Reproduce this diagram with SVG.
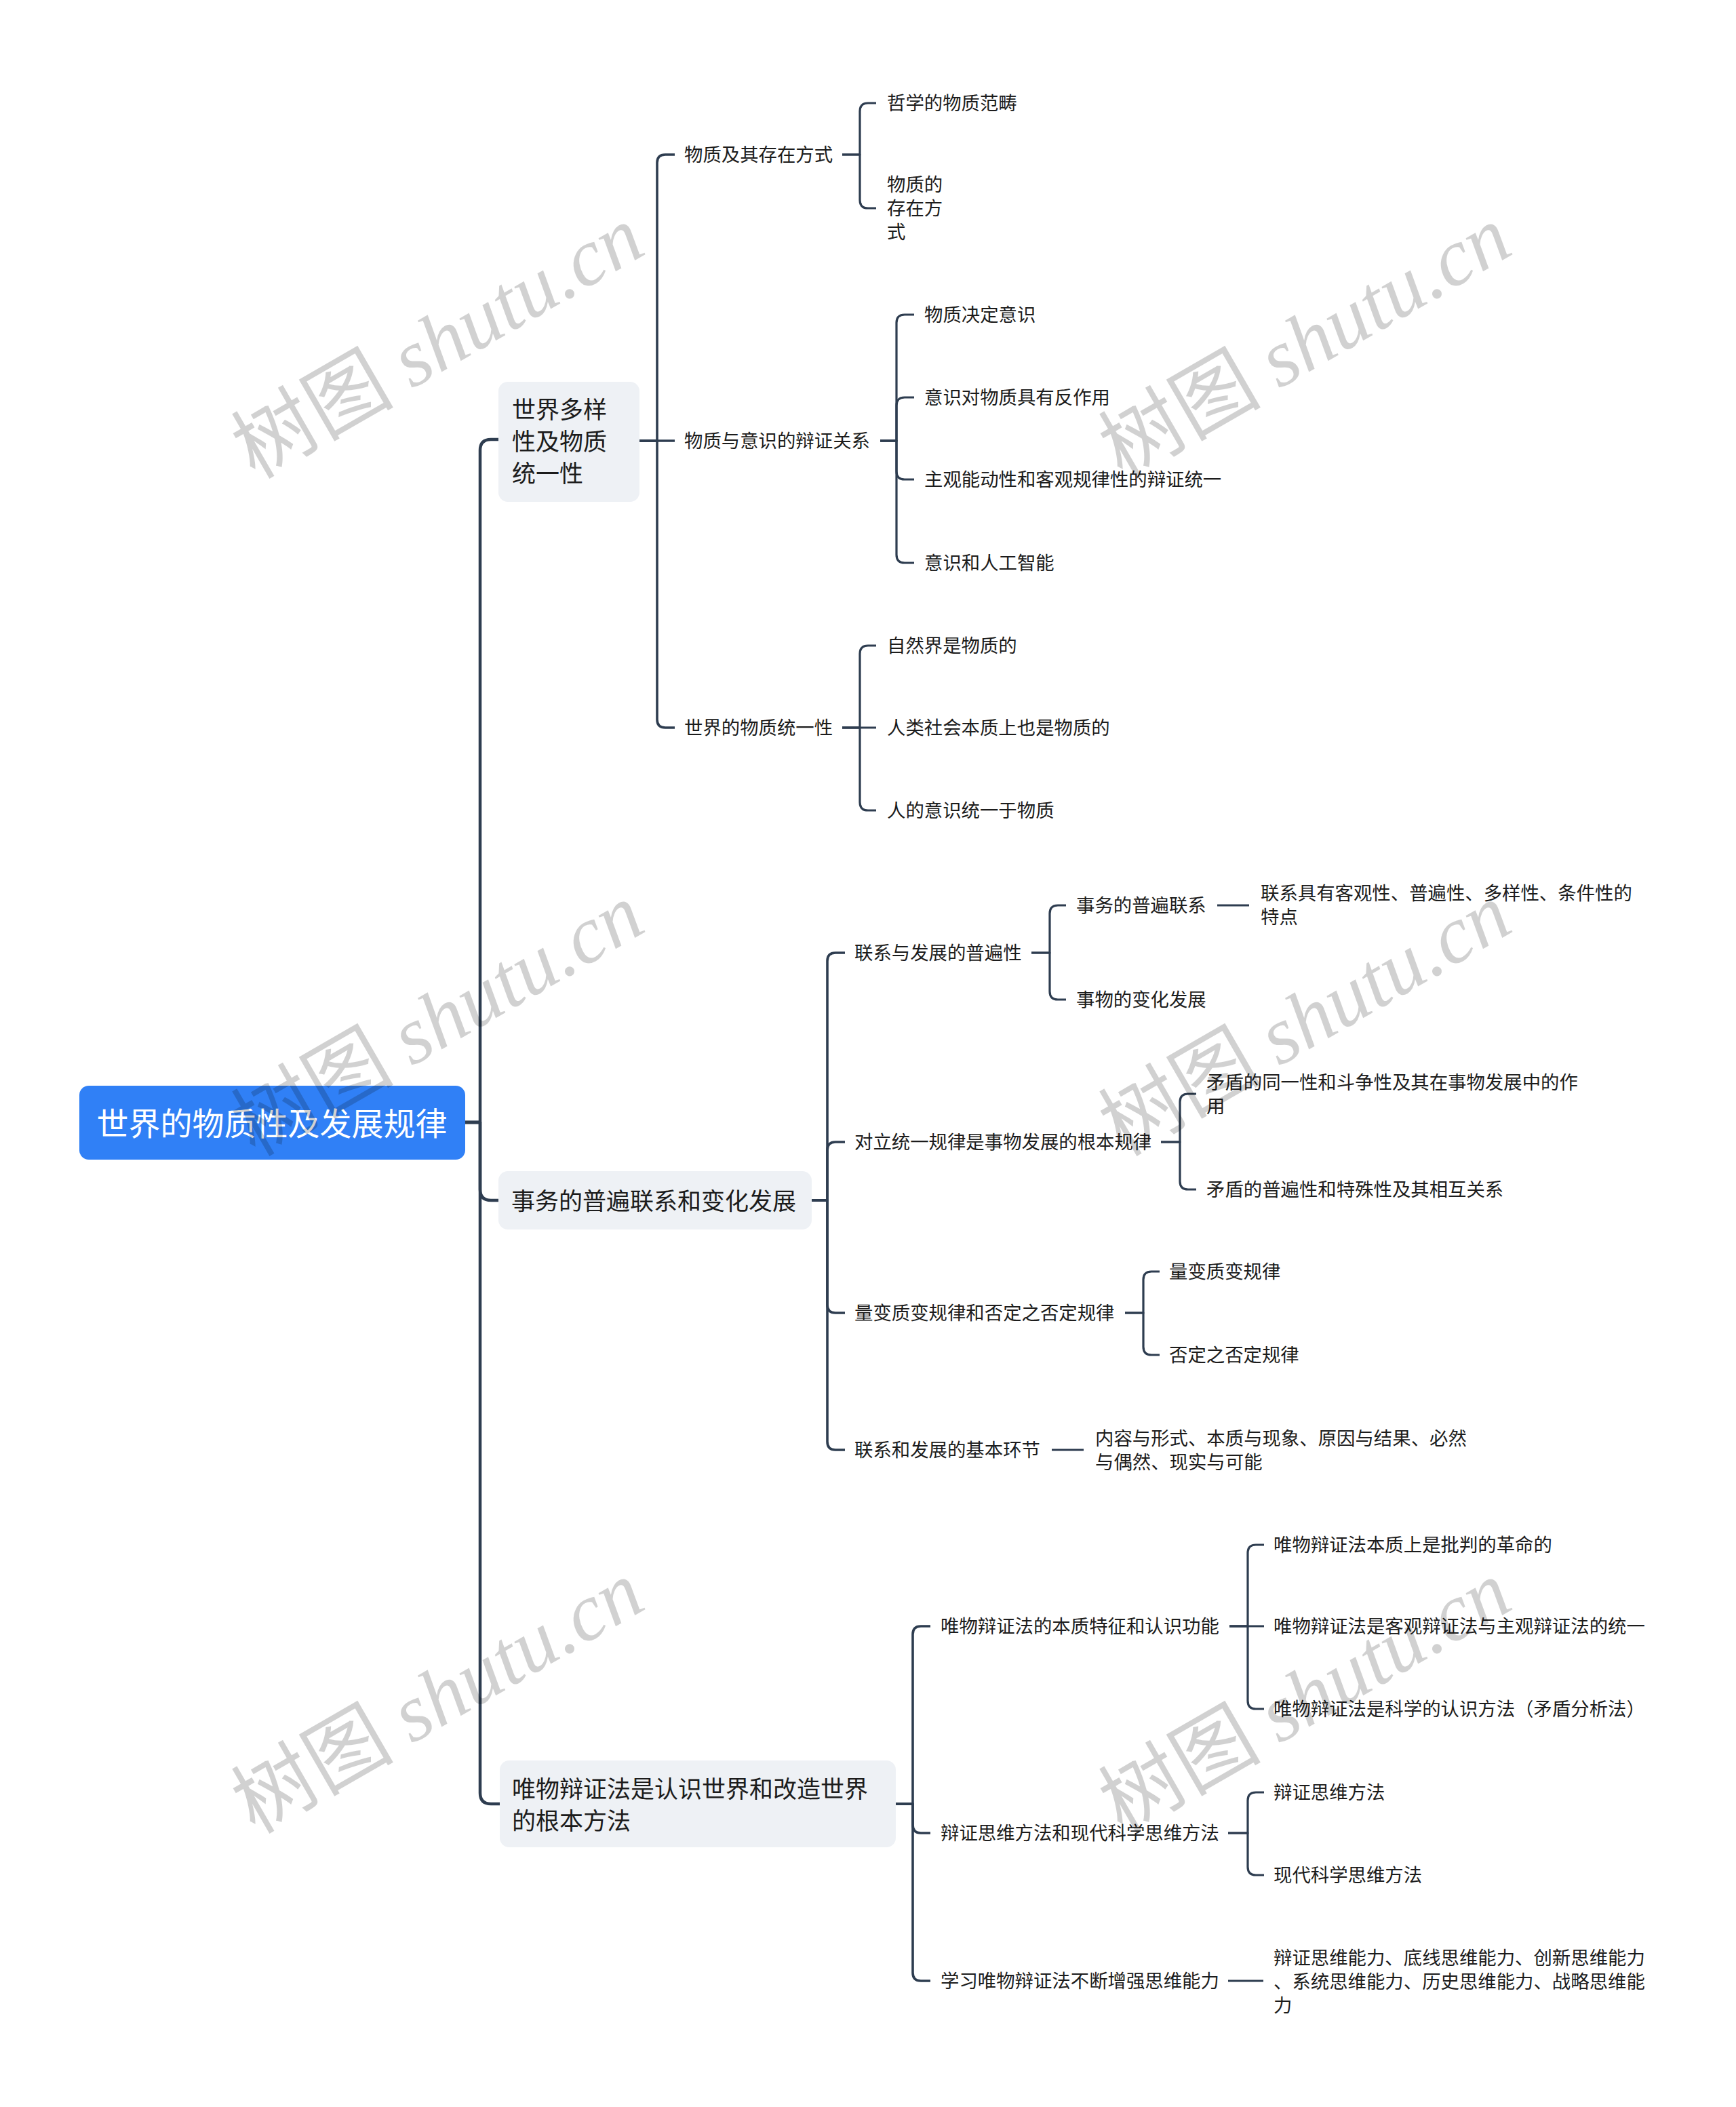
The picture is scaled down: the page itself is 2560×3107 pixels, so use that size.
<svg xmlns="http://www.w3.org/2000/svg" width="2560" height="3107" viewBox="0 0 2560 3107">
<style>
  .c { fill: none; stroke: #2e3d50; stroke-linecap: butt; stroke-linejoin: round; }
  .l1 { stroke-width: 4.5; }
  .l2 { stroke-width: 3.6; }
  .l3 { stroke-width: 3.2; }
  .box { fill: #eef1f5; }
  .rootbox { fill: #3080f6; }
  text { font-family: "Noto Sans CJK SC", "Noto Sans", sans-serif; dominant-baseline: central; }
  .troot, .t1, .t2 { transform: translate(0px, -2px); }
  .troot { font-size: 47px; fill: #ffffff; text-anchor: middle; }
  .t1 { font-size: 35px; fill: #1c1c1c; }
  .t2 { font-size: 27.4px; fill: #1c1c1c; }
  .wm { font-size: 120px; fill: #000000; fill-opacity: 0.18; text-anchor: middle; dominant-baseline: alphabetic; }
  .wm .en { font-family: "Liberation Serif", serif; font-style: italic; }
</style>
<rect x="0" y="0" width="2560" height="3107" fill="#ffffff"/>

<g id="connectors">
  <!-- trunk -->
  <path class="c l1" d="M686,1655 H708 V664 Q708,648 724,648 H735"/>
  <path class="c l1" d="M686,1655 H708 V1754 Q708,1770 724,1770 H735"/>
  <path class="c l1" d="M686,1655 H708 V2644 Q708,2660 724,2660 H737"/>
  <!-- node1 -->
  <path class="c l2" d="M943,650 H969 V240 Q969,228 981,228 H995"/>
  <path class="c l2" d="M943,650 H995"/>
  <path class="c l2" d="M943,650 H969 V1061 Q969,1073 981,1073 H995"/>
  <path class="c l3" d="M1242,228 H1268 V164 Q1268,152 1280,152 H1292"/>
  <path class="c l3" d="M1242,228 H1268 V295 Q1268,307 1280,307 H1292"/>
  <path class="c l3" d="M1298,650 H1322 V476 Q1322,464 1334,464 H1348"/>
  <path class="c l3" d="M1298,650 H1322 V598 Q1322,586 1334,586 H1348"/>
  <path class="c l3" d="M1298,650 H1322 V695 Q1322,707 1334,707 H1348"/>
  <path class="c l3" d="M1298,650 H1322 V818 Q1322,830 1334,830 H1348"/>
  <path class="c l3" d="M1242,1073 H1268 V964 Q1268,952 1280,952 H1292"/>
  <path class="c l3" d="M1242,1073 H1292"/>
  <path class="c l3" d="M1242,1073 H1268 V1183 Q1268,1195 1280,1195 H1292"/>
  <!-- node2 -->
  <path class="c l2" d="M1197,1770 H1220 V1417 Q1220,1405 1232,1405 H1246"/>
  <path class="c l2" d="M1197,1770 H1220 V1696 Q1220,1684 1232,1684 H1246"/>
  <path class="c l2" d="M1197,1770 H1220 V1924 Q1220,1936 1232,1936 H1246"/>
  <path class="c l2" d="M1197,1770 H1220 V2126 Q1220,2138 1232,2138 H1246"/>
  <path class="c l3" d="M1521,1405 H1548 V1347 Q1548,1335 1560,1335 H1572"/>
  <path class="c l3" d="M1521,1405 H1548 V1462 Q1548,1474 1560,1474 H1572"/>
  <path class="c l3" d="M1795,1335 H1842"/>
  <path class="c l3" d="M1712,1684 H1740 V1625 Q1740,1613 1752,1613 H1764"/>
  <path class="c l3" d="M1712,1684 H1740 V1742 Q1740,1754 1752,1754 H1764"/>
  <path class="c l3" d="M1659,1936 H1686 V1887 Q1686,1875 1698,1875 H1710"/>
  <path class="c l3" d="M1659,1936 H1686 V1986 Q1686,1998 1698,1998 H1710"/>
  <path class="c l3" d="M1551,2138 H1598"/>
  <!-- node3 -->
  <path class="c l2" d="M1320,2660 H1346 V2410 Q1346,2398 1358,2398 H1372"/>
  <path class="c l2" d="M1320,2660 H1346 V2691 Q1346,2703 1358,2703 H1372"/>
  <path class="c l2" d="M1320,2660 H1346 V2909 Q1346,2921 1358,2921 H1372"/>
  <path class="c l3" d="M1813,2398 H1840 V2290 Q1840,2278 1852,2278 H1864"/>
  <path class="c l3" d="M1813,2398 H1864"/>
  <path class="c l3" d="M1813,2398 H1840 V2508 Q1840,2520 1852,2520 H1864"/>
  <path class="c l3" d="M1811,2703 H1840 V2655 Q1840,2643 1852,2643 H1864"/>
  <path class="c l3" d="M1811,2703 H1840 V2753 Q1840,2765 1852,2765 H1864"/>
  <path class="c l3" d="M1811,2921 H1863"/>
</g>

<g id="root">
  <rect class="rootbox" x="117" y="1601" width="569" height="109" rx="14"/>
  <text class="troot" x="401" y="1655">世界的物质性及发展规律</text>
</g>

<g id="n1">
  <rect class="box" x="735" y="563" width="208" height="177" rx="14"/>
  <text class="t1" x="755" y="603">世界多样</text>
  <text class="t1" x="755" y="650">性及物质</text>
  <text class="t1" x="755" y="697">统一性</text>
</g>
<g id="n1a"><text class="t2" x="1009" y="228">物质及其存在方式</text></g>
<g id="n1a1"><text class="t2" x="1308" y="152">哲学的物质范畴</text></g>
<g id="n1a2">
  <text class="t2" x="1308" y="272">物质的</text>
  <text class="t2" x="1308" y="307">存在方</text>
  <text class="t2" x="1308" y="342">式</text>
</g>
<g id="n1b"><text class="t2" x="1009" y="650">物质与意识的辩证关系</text></g>
<g id="n1b1"><text class="t2" x="1363" y="464">物质决定意识</text></g>
<g id="n1b2"><text class="t2" x="1363" y="586">意识对物质具有反作用</text></g>
<g id="n1b3"><text class="t2" x="1363" y="707">主观能动性和客观规律性的辩证统一</text></g>
<g id="n1b4"><text class="t2" x="1363" y="830">意识和人工智能</text></g>
<g id="n1c"><text class="t2" x="1009" y="1073">世界的物质统一性</text></g>
<g id="n1c1"><text class="t2" x="1308" y="952">自然界是物质的</text></g>
<g id="n1c2"><text class="t2" x="1308" y="1073">人类社会本质上也是物质的</text></g>
<g id="n1c3"><text class="t2" x="1308" y="1195">人的意识统一于物质</text></g>

<g id="n2">
  <rect class="box" x="735" y="1727" width="462" height="86" rx="14"/>
  <text class="t1" x="754" y="1770">事务的普遍联系和变化发展</text>
</g>
<g id="n2a"><text class="t2" x="1260" y="1405">联系与发展的普遍性</text></g>
<g id="n2a1"><text class="t2" x="1587" y="1335">事务的普遍联系</text></g>
<g id="n2a1a">
  <text class="t2" x="1859" y="1317">联系具有客观性、普遍性、多样性、条件性的</text>
  <text class="t2" x="1859" y="1352">特点</text>
</g>
<g id="n2a2"><text class="t2" x="1587" y="1474">事物的变化发展</text></g>
<g id="n2b"><text class="t2" x="1260" y="1684">对立统一规律是事物发展的根本规律</text></g>
<g id="n2b1">
  <text class="t2" x="1779" y="1596">矛盾的同一性和斗争性及其在事物发展中的作</text>
  <text class="t2" x="1779" y="1631">用</text>
</g>
<g id="n2b2"><text class="t2" x="1779" y="1754">矛盾的普遍性和特殊性及其相互关系</text></g>
<g id="n2c"><text class="t2" x="1260" y="1936">量变质变规律和否定之否定规律</text></g>
<g id="n2c1"><text class="t2" x="1724" y="1875">量变质变规律</text></g>
<g id="n2c2"><text class="t2" x="1724" y="1998">否定之否定规律</text></g>
<g id="n2d"><text class="t2" x="1260" y="2138">联系和发展的基本环节</text></g>
<g id="n2d1">
  <text class="t2" x="1615" y="2121">内容与形式、本质与现象、原因与结果、必然</text>
  <text class="t2" x="1615" y="2156">与偶然、现实与可能</text>
</g>

<g id="n3">
  <rect class="box" x="737" y="2596" width="584" height="128" rx="14"/>
  <text class="t1" x="755" y="2637">唯物辩证法是认识世界和改造世界</text>
  <text class="t1" x="755" y="2684">的根本方法</text>
</g>
<g id="n3a"><text class="t2" x="1387" y="2398">唯物辩证法的本质特征和认识功能</text></g>
<g id="n3a1"><text class="t2" x="1878" y="2278">唯物辩证法本质上是批判的革命的</text></g>
<g id="n3a2"><text class="t2" x="1878" y="2398">唯物辩证法是客观辩证法与主观辩证法的统一</text></g>
<g id="n3a3"><text class="t2" x="1878" y="2520">唯物辩证法是科学的认识方法（矛盾分析法）</text></g>
<g id="n3b"><text class="t2" x="1387" y="2703">辩证思维方法和现代科学思维方法</text></g>
<g id="n3b1"><text class="t2" x="1878" y="2643">辩证思维方法</text></g>
<g id="n3b2"><text class="t2" x="1878" y="2765">现代科学思维方法</text></g>
<g id="n3c"><text class="t2" x="1387" y="2921">学习唯物辩证法不断增强思维能力</text></g>
<g id="n3c1">
  <text class="t2" x="1878" y="2887">辩证思维能力、底线思维能力、创新思维能力</text>
  <text class="t2" x="1878" y="2922">、系统思维能力、历史思维能力、战略思维能</text>
  <text class="t2" x="1878" y="2957">力</text>
</g>

<g id="watermarks">
  <text class="wm" transform="translate(666,540) rotate(-30)">树图 <tspan class="en">shutu.cn</tspan></text>
  <text class="wm" transform="translate(1945,540) rotate(-30)">树图 <tspan class="en">shutu.cn</tspan></text>
  <text class="wm" transform="translate(666,1539) rotate(-30)">树图 <tspan class="en">shutu.cn</tspan></text>
  <text class="wm" transform="translate(1945,1539) rotate(-30)">树图 <tspan class="en">shutu.cn</tspan></text>
  <text class="wm" transform="translate(666,2538) rotate(-30)">树图 <tspan class="en">shutu.cn</tspan></text>
  <text class="wm" transform="translate(1945,2538) rotate(-30)">树图 <tspan class="en">shutu.cn</tspan></text>
</g>
</svg>
